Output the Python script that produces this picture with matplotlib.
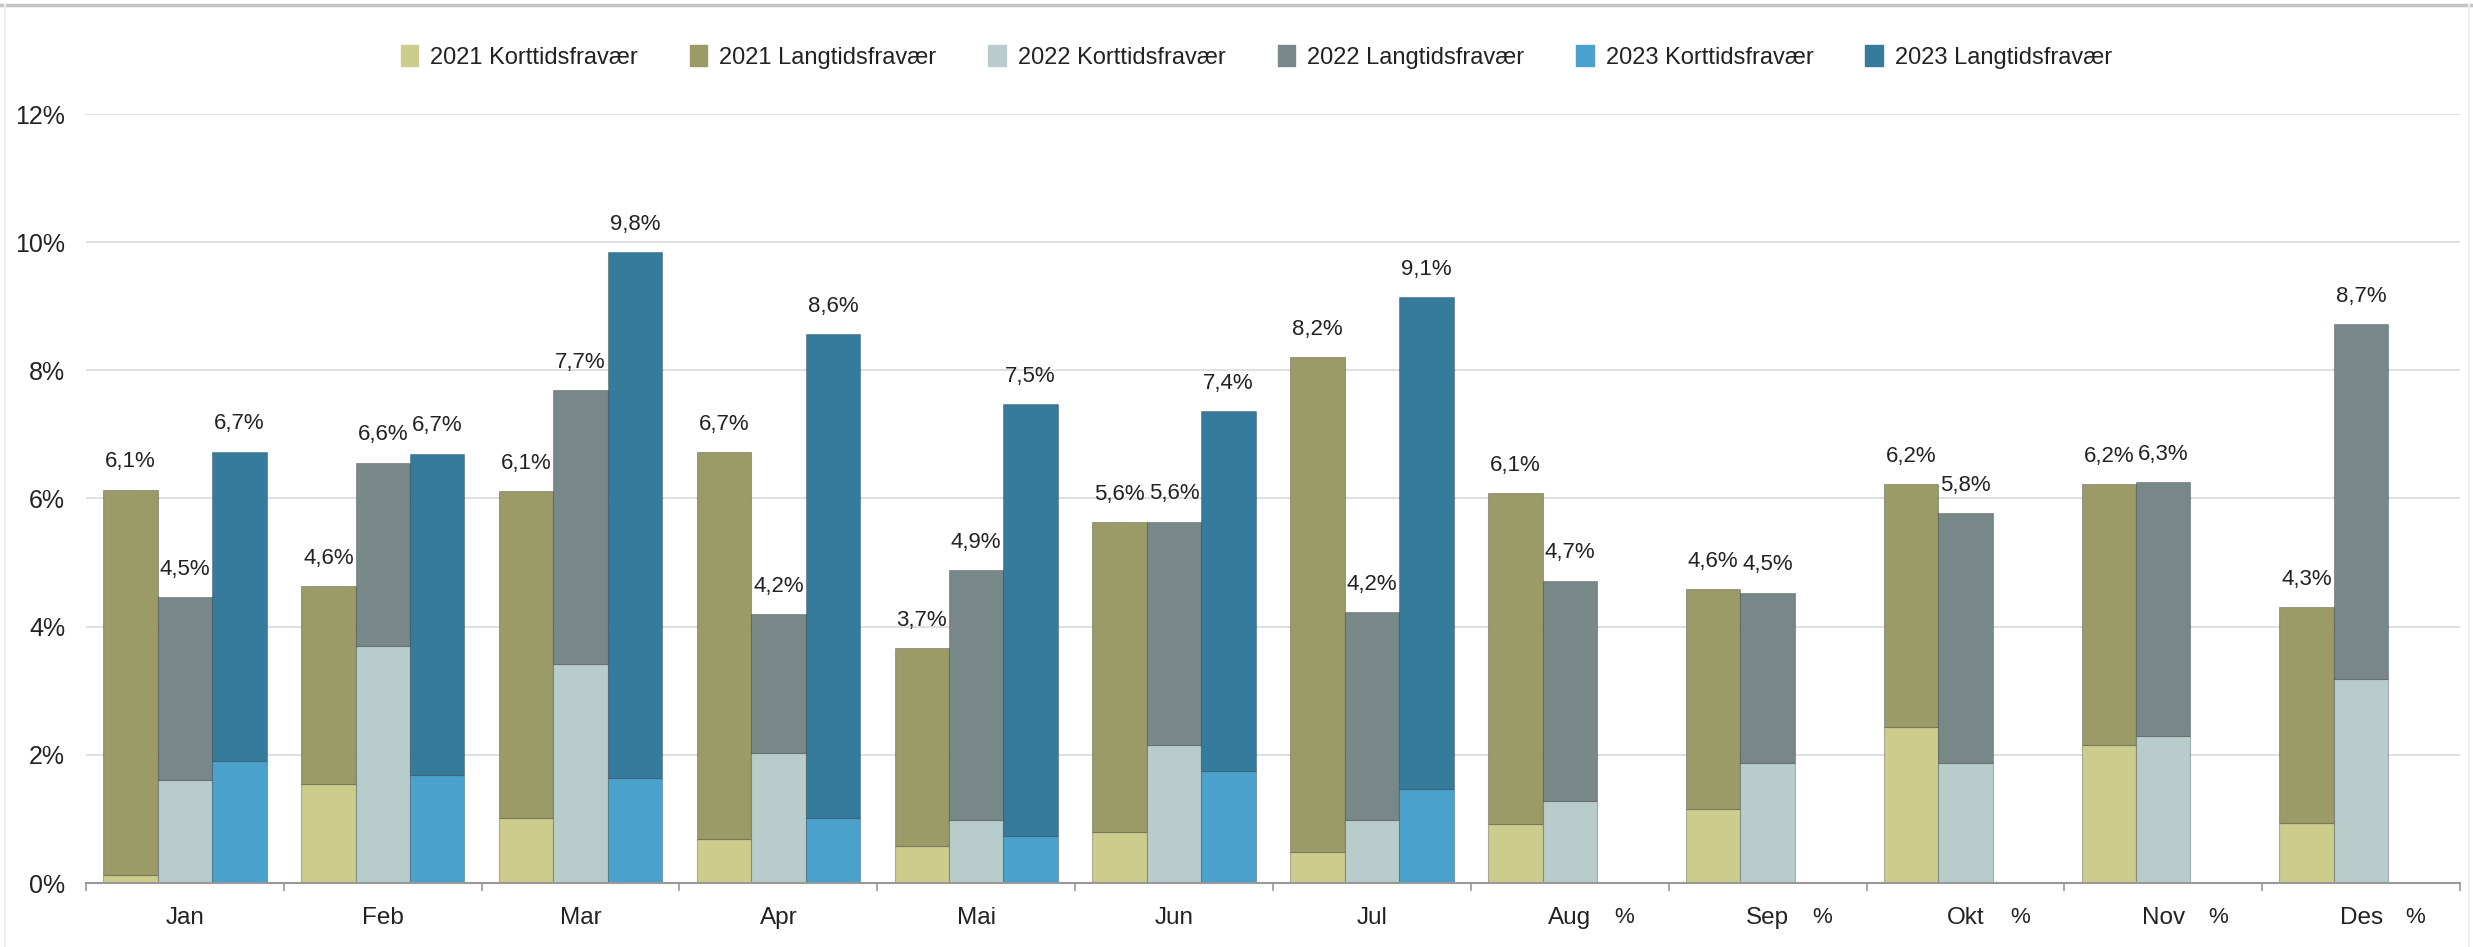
import numpy as np
import matplotlib
matplotlib.use('Agg')
import matplotlib.pyplot as plt
from matplotlib.patches import Patch
from matplotlib.lines import Line2D

plt.rcParams['font.family'] = ['Liberation Sans', 'DejaVu Sans']

# data (sick leave in %, short-term part and total per month)
months = ['Jan', 'Feb', 'Mar', 'Apr', 'Mai', 'Jun', 'Jul', 'Aug', 'Sep', 'Okt', 'Nov', 'Des']
kort_2021 = [0.13, 1.54, 1.02, 0.69, 0.57, 0.79, 0.48, 0.92, 1.15, 2.43, 2.15, 0.94]
total_2021 = [6.14, 4.63, 6.11, 6.72, 3.66, 5.63, 8.21, 6.09, 4.58, 6.22, 6.22, 4.31]
kort_2022 = [1.60, 3.70, 3.41, 2.03, 0.99, 2.16, 0.99, 1.28, 1.87, 1.88, 2.29, 3.18]
total_2022 = [4.46, 6.56, 7.69, 4.19, 4.88, 5.64, 4.23, 4.72, 4.53, 5.77, 6.26, 8.72]
kort_2023 = [1.90, 1.68, 1.64, 1.01, 0.74, 1.75, 1.46, np.nan, np.nan, np.nan, np.nan, np.nan]
total_2023 = [6.73, 6.70, 9.84, 8.57, 7.47, 7.36, 9.14, np.nan, np.nan, np.nan, np.nan, np.nan]

years = ['2021', '2022', '2023']
kort = [kort_2021, kort_2022, kort_2023]
total = [total_2021, total_2022, total_2023]
col_kort = ['#cccc8c', '#b8cccc', '#4aa2cc']
col_lang = ['#9b9b68', '#788888', '#347b9c']

txt = '#222222'
fig = plt.figure(figsize=(24.73, 9.47), dpi=100)
ax = fig.add_axes([86 / 2473, 1 - 883 / 947, (2460 - 86) / 2473, (883 - 114) / 947])

x = np.arange(len(months))
w = 0.275
for i in range(3):
    k = np.array(kort[i])
    t = np.array(total[i])
    pos = x + (i - 1) * w
    ax.bar(pos, k, w, color=col_kort[i], edgecolor=(0, 0, 0, 0.25), linewidth=0.8, zorder=2)
    ax.bar(pos, t - k, w, bottom=k, color=col_lang[i], edgecolor=(0, 0, 0, 0.25), linewidth=0.8, zorder=2)
    for px, v in zip(pos, t):
        if np.isnan(v):
            # empty 2023 months only show the bare unit below the axis
            ax.annotate('%', (px, 0), xytext=(0, -29), textcoords='offset points',
                        ha='center', va='baseline', fontsize=16, color=txt, annotation_clip=False)
        else:
            lab = f'{v:.1f}%'.replace('.', ',')
            ax.annotate(lab, (px, v), xytext=(0, 16), textcoords='offset points',
                        ha='center', va='baseline', fontsize=16, color=txt)

ax.set_xlim(-0.5, len(months) - 0.5)
ax.set_ylim(0, 12)
ax.set_yticks(range(0, 13, 2))
ax.set_yticklabels([f'{v}%' for v in range(0, 13, 2)])
ax.set_xticks(x)
ax.set_xticklabels(months)
ax.set_xticks(np.arange(-0.5, len(months)), minor=True)
ax.tick_params(axis='x', which='major', length=0, pad=17, labelsize=17.5, labelcolor=txt)
ax.tick_params(axis='x', which='minor', length=6, width=1.2, color='#999999')
ax.tick_params(axis='y', length=0, pad=15, labelsize=18, labelcolor=txt)
ax.grid(axis='y', color='#dadada', linewidth=1.2, zorder=0)
ax.set_axisbelow(True)
for s in ['left', 'right', 'top']:
    ax.spines[s].set_visible(False)
ax.spines['bottom'].set_color('#999999')
ax.spines['bottom'].set_linewidth(1.5)

handles = []
labels = []
for i in range(3):
    handles += [Patch(color=col_kort[i]), Patch(color=col_lang[i])]
    labels += [years[i] + ' Korttidsfravær', years[i] + ' Langtidsfravær']
fig.legend(handles, labels, ncol=6, loc='center', bbox_to_anchor=(0.508, 1 - 57 / 947),
           frameon=False, fontsize=17, handlelength=0.75, handleheight=1.0,
           handletextpad=0.5, columnspacing=2.2, labelcolor=txt)

# thin frame of the screenshot
fig.add_artist(Line2D([0, 1], [1 - 5 / 947, 1 - 5 / 947], transform=fig.transFigure, color='#c4c4c4', lw=2.5))
fig.add_artist(Line2D([5 / 2473, 5 / 2473], [0, 1 - 5 / 947], transform=fig.transFigure, color='#eeeeee', lw=1.5))
fig.add_artist(Line2D([2469 / 2473, 2469 / 2473], [0, 1 - 5 / 947], transform=fig.transFigure, color='#eeeeee', lw=1.5))

fig.savefig('out.png', dpi=100)
